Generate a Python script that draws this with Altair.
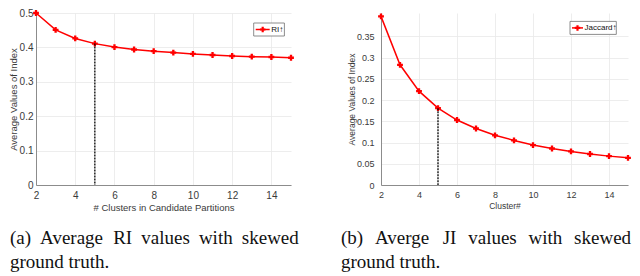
import altair as alt
import pandas as pd

# ---- data ----
clusters = [2, 3, 4, 5, 6, 7, 8, 9, 10, 11, 12, 13, 14, 15]
ri_values = [0.500, 0.451, 0.426, 0.411, 0.401, 0.394, 0.389, 0.385, 0.381, 0.378, 0.375, 0.373, 0.372, 0.370]
jaccard_values = [0.397, 0.283, 0.221, 0.181, 0.153, 0.133, 0.117, 0.105, 0.094, 0.086, 0.079, 0.073, 0.068, 0.064]
x_ticks = [2, 4, 6, 8, 10, 12, 14]
ri_y_ticks = [0, 0.1, 0.2, 0.3, 0.4, 0.5]
jac_y_ticks = [0, 0.05, 0.1, 0.15, 0.2, 0.25, 0.3, 0.35]
marked_cluster = 5

y_title = "Average Values of Index"
left_x_title = "# Clusters in Candidate Partitions"
right_x_title = "Cluster#"
left_legend = "RI\u2191"
right_legend = "Jaccard\u2191"
left_caption1 = ["(a)", "Average", "RI", "values", "with", "skewed"]
right_caption1 = ["(b)", "Averge", "JI", "values", "with", "skewed"]
caption2 = "ground truth."

SANS = "Liberation Sans"
SERIF = "Liberation Serif"
one = pd.DataFrame({"a": [0]})
H = 172


def panel(values, y_ticks, y_max, x_title, legend_label, caption_words,
          W, font, lab_pad_y, title_x, legend_w, legend_rm, legend_top, legend_line_w,
          caption_xs, caption2_x):
    df = pd.DataFrame({"k": clusters, "v": values})
    x = alt.X("k:Q", scale=alt.Scale(domain=[2, 15], nice=False, zero=False),
              axis=alt.Axis(values=x_ticks, title=x_title, grid=True, ticks=False,
                            labelFontSize=font, titleFontSize=font - 0.5,
                            labelPadding=5, titlePadding=2, labelFlush=False,
                            labelOverlap=False, titleFontWeight="normal"))
    y = alt.Y("v:Q", scale=alt.Scale(domain=[0, y_max], nice=False),
              axis=alt.Axis(values=y_ticks, title=y_title, grid=True, ticks=False,
                            format="~g",
                            labelFontSize=font, titleFontSize=font - 0.5,
                            labelPadding=lab_pad_y, titleX=title_x, titleY=H / 2,
                            labelFlush=False, labelOverlap=False,
                            titleFontWeight="normal"))
    base = alt.Chart(df)
    line = base.mark_line(color="#ff0000", strokeWidth=1.5).encode(x=x, y=y)
    pts = base.mark_point(shape="cross", filled=True, color="#ff0000", size=34,
                          opacity=1).encode(x=x, y=y)
    rule = base.transform_filter(alt.datum.k == marked_cluster).mark_rule(
        color="#000000", strokeDash=[2, 1], strokeWidth=1.3
    ).encode(x=x, y=y, y2=alt.Y2Datum(0))

    bx2 = W - legend_rm
    bx1 = bx2 - legend_w
    by1 = legend_top
    by2 = legend_top + 13
    ly = (by1 + by2) / 2
    lx1 = bx1 + 2
    lx2 = lx1 + legend_line_w
    lbox = alt.Chart(one).mark_rect(fill="white", stroke="#707070", strokeWidth=0.8).encode(
        x=alt.value(bx1), x2=alt.value(bx2), y=alt.value(by1), y2=alt.value(by2))
    lline = alt.Chart(one).mark_rule(color="#ff0000", strokeWidth=1.5).encode(
        x=alt.value(lx1), x2=alt.value(lx2), y=alt.value(ly))
    lpt = alt.Chart(one).mark_point(shape="cross", filled=True, color="#ff0000", size=30,
                                    opacity=1).encode(x=alt.value((lx1 + lx2) / 2), y=alt.value(ly))
    ltxt = alt.Chart(one).mark_text(text=legend_label, font=SANS, fontSize=8, align="left",
                                    baseline="middle", color="#111111").encode(
        x=alt.value(lx2 + 1.5), y=alt.value(ly))

    layers = [line, pts, rule, lbox, lline, lpt, ltxt]
    for word, wx in zip(caption_words, caption_xs):
        layers.append(alt.Chart(one).mark_text(text=word, font=SERIF, fontSize=19, align="left",
                                               baseline="alphabetic", color="#111111").encode(
            x=alt.value(wx), y=alt.value(230.5)))
    layers.append(alt.Chart(one).mark_text(text=caption2, font=SERIF, fontSize=19, align="left",
                                           baseline="alphabetic", color="#111111").encode(
        x=alt.value(caption2_x), y=alt.value(255.0)))
    return alt.layer(*layers).properties(width=W, height=H)


# left plot spans page x ~35..290, right plot ~380..627
left = panel(ri_values, ri_y_ticks, 0.5, left_x_title, left_legend, left_caption1,
             255, 10, 3, -17.5, 30.7, 6.6, 10, 14,
             [-26, 4.1, 77.2, 105.3, 162.9, 205.8], -26)
right = panel(jaccard_values, jac_y_ticks, 0.405, right_x_title, right_legend, right_caption1,
              247, 9, 7, -24.5, 46.3, 11.7, 8.4, 11,
              [-40, -6, 61.7, 87.2, 147.5, 193.1], -40)

chart = alt.hconcat(left, right, spacing=90, bounds="flush").properties(
    padding={"left": 0, "top": 0, "right": 0, "bottom": 0},
    background="white"
).configure_view(stroke=None).configure_axis(
    domainColor="#8c8c8c", gridColor="#e8e8e8", gridWidth=0.8,
    labelColor="#3a3a3a", titleColor="#3a3a3a", labelFont=SANS, titleFont=SANS,
    titleFontWeight="normal"
)

chart.save("out.html", embed_options={"renderer": "svg", "actions": False})
